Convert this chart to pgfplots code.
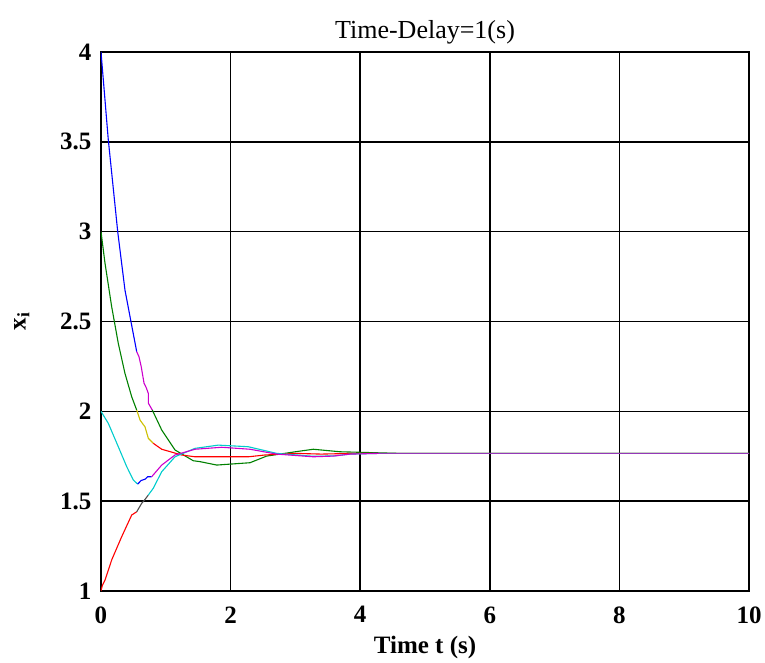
\documentclass[border=0pt]{standalone}
\usepackage{pgfplots}
\pgfplotsset{compat=1.18}
\usepackage{fontspec}
\setmainfont{Liberation Serif}
\definecolor{mgreen}{rgb}{0,0.5,0}
\definecolor{myellow}{rgb}{0.8,0.75,0}
\definecolor{mcyan}{rgb}{0,0.8,0.8}
\definecolor{mmag}{rgb}{0.8,0,0.8}
\definecolor{mgray}{rgb}{0.3,0.3,0.3}
\definecolor{mpurp}{rgb}{0.58,0.22,0.72}
\begin{document}
\begin{tikzpicture}
\useasboundingbox (-101pt,-71pt) rectangle (664pt,591pt);
\begin{axis}[
  scale only axis, width=648pt, height=539pt,
  xmin=0, xmax=10, ymin=1, ymax=4,
  xtick={0,2,4,6,8,10}, ytick={1,1.5,2,2.5,3,3.5,4},
  grid=major, major grid style={black, line width=1.5pt},
  axis line style={black, line width=1.6pt},
  tick align=inside, major tick length=6pt, tick style={black, line width=1.5pt},
  /pgf/number format/assume math mode=true,
  tick label style={font=\bfseries\fontsize{25}{25}\selectfont},
  xticklabel style={yshift=-12pt},
  yticklabel style={xshift=-6pt},
  title={\fontsize{26}{26}\selectfont Time-Delay=1(s)},
  title style={yshift=-2pt},
  xlabel={\bfseries\fontsize{25}{25}\selectfont Time t (s)},
  xlabel style={yshift=-6pt},
  ylabel={\bfseries\fontsize{25}{25}\selectfont x\textsubscript{i}},
  ylabel style={yshift=24pt},
  every axis plot/.append style={line width=1.1pt},
]
% Curve A (starts at 4)
\addplot[blue] coordinates {(0,4.0) (0.113,3.51) (0.258,3.0) (0.37,2.675) (0.458,2.508) (0.551,2.332)};
\addplot[mmag] coordinates {(0.551,2.332) (0.586,2.304) (0.62,2.25) (0.664,2.157) (0.70,2.13) (0.73,2.10) (0.73,2.046) (0.792,2.007)};
\addplot[mgreen] coordinates {(0.792,2.007) (0.937,1.896) (1.142,1.785) (1.424,1.725) (1.528,1.72) (1.786,1.701) (2.30,1.714) (2.557,1.751) (3.0,1.775) (3.276,1.789) (3.688,1.775) (4.198,1.77) (4.6,1.766) (10,1.766)};
% Curve B (starts at 3)
\addplot[mgreen] coordinates {(0,3.0) (0.062,2.824) (0.165,2.582) (0.267,2.378) (0.37,2.211) (0.474,2.081) (0.551,2.007)};
\addplot[myellow] coordinates {(0.551,2.007) (0.602,1.952) (0.645,1.93) (0.679,1.914) (0.73,1.85) (0.807,1.822)};
\addplot[red] coordinates {(0.807,1.822) (0.937,1.789) (1.245,1.757) (1.451,1.747) (2.273,1.747) (2.531,1.757) (3.0,1.766) (3.4,1.762) (3.9,1.766) (10,1.766)};
% Curve D (starts at 1)
\addplot[red] coordinates {(0,1.0) (0.02,1.03) (0.062,1.061) (0.165,1.173) (0.319,1.302) (0.474,1.423) (0.551,1.441)};
\addplot[mgray] coordinates {(0.551,1.441) (0.628,1.488) (0.68,1.51) (0.73,1.534)};
\addplot[mcyan] coordinates {(0.73,1.534) (0.807,1.572) (0.937,1.664) (1.142,1.747) (1.451,1.794) (1.81,1.812) (2.273,1.803) (2.711,1.766) (3.27,1.75) (3.6,1.752) (3.85,1.762) (4.3,1.766) (10,1.766)};
% Curve C (starts at 2)
\addplot[mcyan] coordinates {(0,2.0) (0.113,1.933) (0.267,1.803) (0.397,1.692) (0.498,1.618) (0.566,1.595)};
\addplot[blue] coordinates {(0.566,1.595) (0.62,1.615) (0.679,1.622) (0.72,1.636) (0.782,1.636)};
\addplot[mmag] coordinates {(0.782,1.636) (0.937,1.701) (1.142,1.757) (1.451,1.789) (1.863,1.80) (2.30,1.789) (2.711,1.762) (3.276,1.747) (3.585,1.751) (3.843,1.762) (4.3,1.766)};
\addplot[mpurp, line width=1.6pt] coordinates {(4.3,1.766) (10,1.766)};
\end{axis}
\end{tikzpicture}
\end{document}
